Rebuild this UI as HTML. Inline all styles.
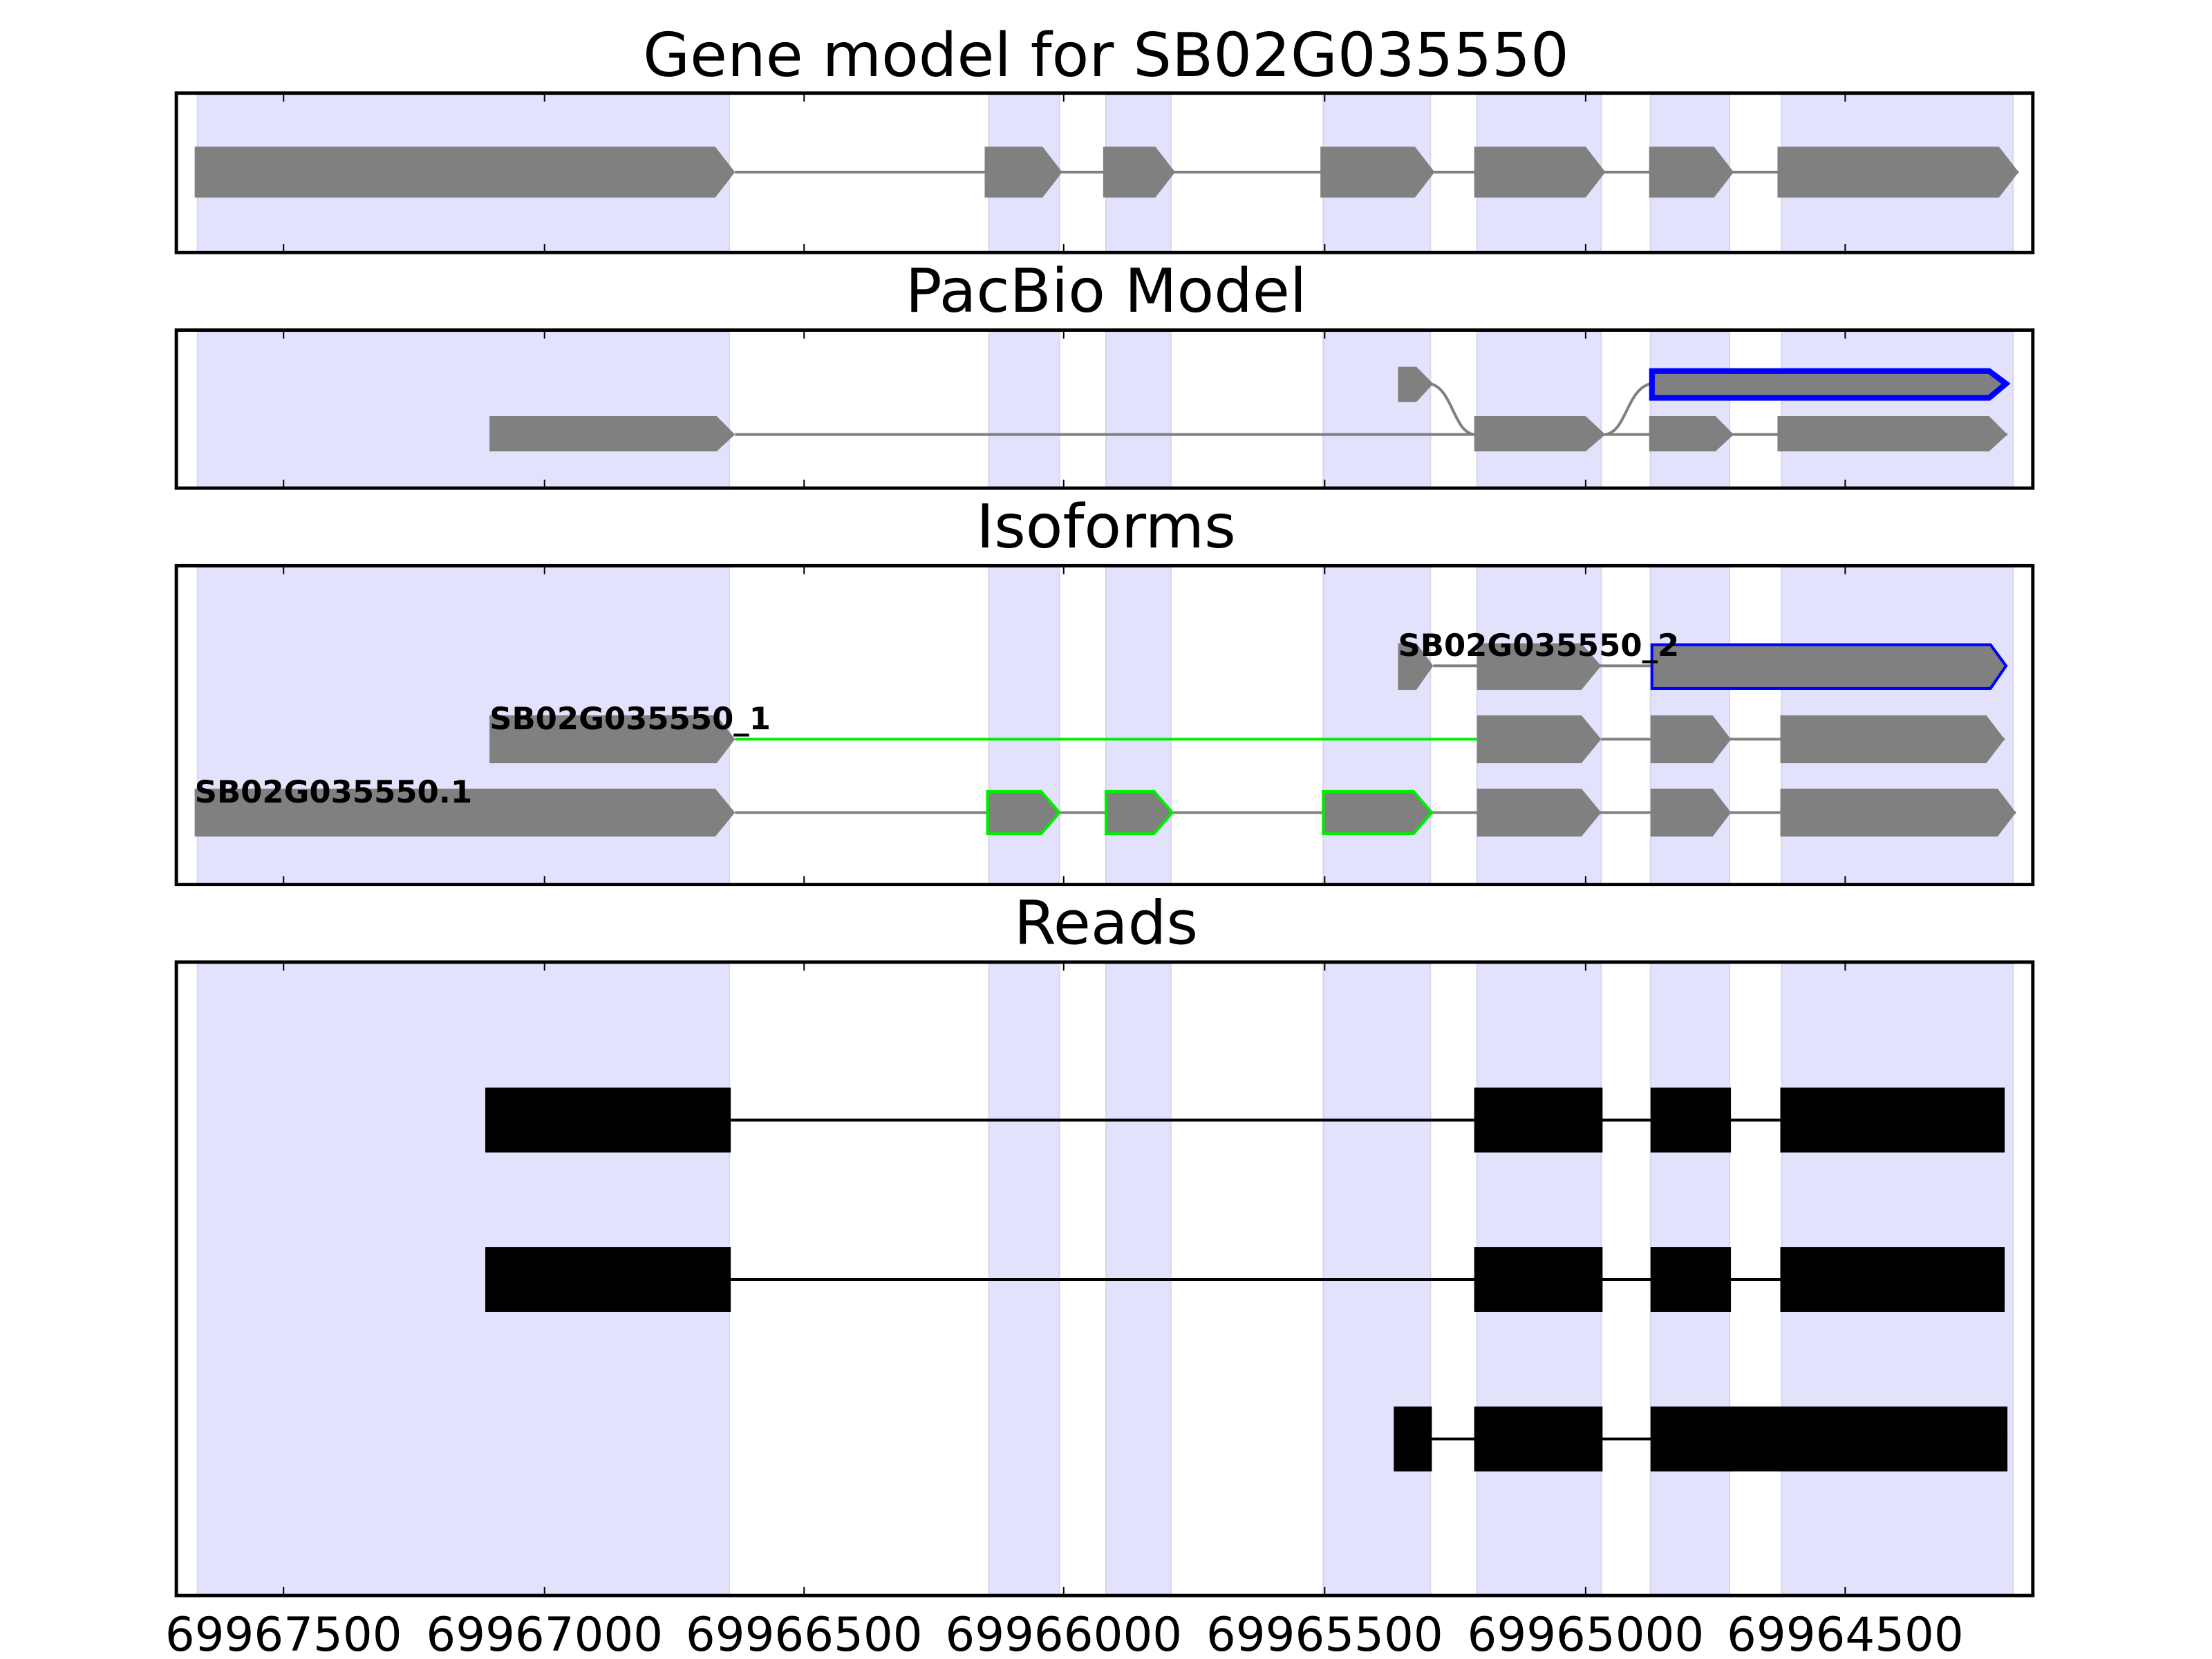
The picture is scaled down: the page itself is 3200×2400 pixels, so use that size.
<!DOCTYPE html>
<html><head><meta charset="utf-8"><style>html,body{margin:0;padding:0;background:#fff}svg{display:block}</style></head>
<body>
<svg width="3200" height="2400" viewBox="0 0 1568 1176" xmlns="http://www.w3.org/2000/svg" font-family="'DejaVu Sans','Liberation Sans',sans-serif">
<g fill="#e2e2fc" stroke="#d6d6ee" stroke-width="1">
<rect x="140" y="67" width="377" height="112"/><rect x="701" y="67" width="50" height="112"/><rect x="784" y="67" width="46" height="112"/><rect x="938" y="67" width="76" height="112"/><rect x="1047" y="67" width="88" height="112"/><rect x="1170" y="67" width="56" height="112"/><rect x="1263" y="67" width="164" height="112"/>
<rect x="140" y="235" width="377" height="111"/><rect x="701" y="235" width="50" height="111"/><rect x="784" y="235" width="46" height="111"/><rect x="938" y="235" width="76" height="111"/><rect x="1047" y="235" width="88" height="111"/><rect x="1170" y="235" width="56" height="111"/><rect x="1263" y="235" width="164" height="111"/>
<rect x="140" y="402" width="377" height="225"/><rect x="701" y="402" width="50" height="225"/><rect x="784" y="402" width="46" height="225"/><rect x="938" y="402" width="76" height="225"/><rect x="1047" y="402" width="88" height="225"/><rect x="1170" y="402" width="56" height="225"/><rect x="1263" y="402" width="164" height="225"/>
<rect x="140" y="683" width="377" height="448"/><rect x="701" y="683" width="50" height="448"/><rect x="784" y="683" width="46" height="448"/><rect x="938" y="683" width="76" height="448"/><rect x="1047" y="683" width="88" height="448"/><rect x="1170" y="683" width="56" height="448"/><rect x="1263" y="683" width="164" height="448"/>
</g>

<g font-size="43" text-anchor="middle" fill="#000">
<text x="784" y="54">Gene model for SB02G035550</text>
<text x="784" y="221">PacBio Model</text>
<text x="784" y="388">Isoforms</text>
<text x="784" y="669">Reads</text>
</g>

<g stroke="#808080" stroke-width="2"><line x1="521" y1="122" x2="1431" y2="122"/></g>
<g fill="#808080">
<polygon points="138,104 507,104 521,122 507,140 138,140"/>
<polygon points="698,104 739,104 753,122 739,140 698,140"/>
<polygon points="782,104 819,104 833,122 819,140 782,140"/>
<polygon points="936,104 1003,104 1017,122 1003,140 936,140"/>
<polygon points="1045,104 1124,104 1138,122 1124,140 1045,140"/>
<polygon points="1169,104 1215,104 1229,122 1215,140 1169,140"/>
<polygon points="1260,104 1417,104 1431,122 1417,140 1260,140"/>
</g>

<g stroke="#808080" stroke-width="2" fill="none">
<line x1="521" y1="308" x2="1423" y2="308"/>
<path d="M1014,272 C1030,276 1030,306 1045,308"/>
<path d="M1138,308 C1153,306 1153,276 1170,272"/>
</g>
<g fill="#808080">
<polygon points="991,260 1004,260 1016,272 1004,285 991,285"/>
<polygon points="347,295 508,295 521,308 508,320 347,320"/>
<polygon points="1045,295 1124,295 1138,308 1124,320 1045,320"/>
<polygon points="1169,295 1216,295 1229,308 1216,320 1169,320"/>
<polygon points="1260,295 1410,295 1423,308 1410,320 1260,320"/>
<polygon points="1171,263 1410,263 1422,272 1410,282 1171,282" stroke="#0000ff" stroke-width="4"/>
</g>

<g stroke="#808080" stroke-width="2">
<line x1="1016" y1="472" x2="1171" y2="472"/>
<line x1="1135" y1="524" x2="1421" y2="524"/>
<line x1="521" y1="576" x2="1429" y2="576"/>
</g>
<line x1="521" y1="524" x2="1047" y2="524" stroke="#00ee00" stroke-width="2"/>
<g fill="#808080">
<polygon points="991,456 1004,456 1016,472 1004,489 991,489"/>
<polygon points="1047,456 1121,456 1135,472 1121,489 1047,489"/>
<polygon points="1171,457 1411,457 1422,472 1411,488 1171,488" stroke="#0000ff" stroke-width="2"/>
<polygon points="347,507 508,507 521,524 508,541 347,541"/>
<polygon points="1047,507 1121,507 1135,524 1121,541 1047,541"/>
<polygon points="1170,507 1214,507 1227,524 1214,541 1170,541"/>
<polygon points="1262,507 1408,507 1421,524 1408,541 1262,541"/>
<polygon points="138,559 507,559 521,576 507,593 138,593"/>
<polygon points="700,561 738,561 751,576 738,591 700,591" stroke="#00ee00" stroke-width="2"/>
<polygon points="784,561 818,561 831,576 818,591 784,591" stroke="#00ee00" stroke-width="2"/>
<polygon points="938,561 1002,561 1015,576 1002,591 938,591" stroke="#00ee00" stroke-width="2"/>
<polygon points="1047,559 1121,559 1135,576 1121,593 1047,593"/>
<polygon points="1170,559 1214,559 1227,576 1214,593 1170,593"/>
<polygon points="1262,559 1416,559 1429,576 1416,593 1262,593"/>
</g>
<g font-size="22" font-weight="bold" fill="#000">
<text x="991" y="465">SB02G035550_2</text>
<text x="347" y="517">SB02G035550_1</text>
<text x="138" y="569">SB02G035550.1</text>
</g>

<g stroke="#000" stroke-width="2">
<line x1="518" y1="794" x2="1421" y2="794"/>
<line x1="518" y1="907" x2="1421" y2="907"/>
<line x1="1015" y1="1020" x2="1423" y2="1020"/>
</g>
<g fill="#000">
<rect x="344" y="771" width="174" height="46"/><rect x="1045" y="771" width="91" height="46"/><rect x="1170" y="771" width="57" height="46"/><rect x="1262" y="771" width="159" height="46"/>
<rect x="344" y="884" width="174" height="46"/><rect x="1045" y="884" width="91" height="46"/><rect x="1170" y="884" width="57" height="46"/><rect x="1262" y="884" width="159" height="46"/>
<rect x="988" y="997" width="27" height="46"/><rect x="1045" y="997" width="91" height="46"/><rect x="1170" y="997" width="253" height="46"/>
</g>

<g fill="none" stroke="#000" stroke-width="2.4">
<rect x="125" y="66" width="1316" height="113"/>
<rect x="125" y="234" width="1316" height="112"/>
<rect x="125" y="401" width="1316" height="226"/>
<rect x="125" y="682" width="1316" height="449"/>
</g>
<g stroke="#000" stroke-width="1">
<path d="M201,66v6M386,66v6M570,66v6M754,66v6M939,66v6M1124,66v6M1308,66v6
M201,179v-6M386,179v-6M570,179v-6M754,179v-6M939,179v-6M1124,179v-6M1308,179v-6
M201,234v6M386,234v6M570,234v6M754,234v6M939,234v6M1124,234v6M1308,234v6
M201,346v-6M386,346v-6M570,346v-6M754,346v-6M939,346v-6M1124,346v-6M1308,346v-6
M201,401v6M386,401v6M570,401v6M754,401v6M939,401v6M1124,401v6M1308,401v6
M201,627v-6M386,627v-6M570,627v-6M754,627v-6M939,627v-6M1124,627v-6M1308,627v-6
M201,682v6M386,682v6M570,682v6M754,682v6M939,682v6M1124,682v6M1308,682v6
M201,1131v-6M386,1131v-6M570,1131v-6M754,1131v-6M939,1131v-6M1124,1131v-6M1308,1131v-6"/>
</g>
<g font-size="33" text-anchor="middle" fill="#000">
<text x="201" y="1170">69967500</text>
<text x="386" y="1170">69967000</text>
<text x="570" y="1170">69966500</text>
<text x="754" y="1170">69966000</text>
<text x="939" y="1170">69965500</text>
<text x="1124" y="1170">69965000</text>
<text x="1308" y="1170">69964500</text>
</g>
</svg>
</body></html>
